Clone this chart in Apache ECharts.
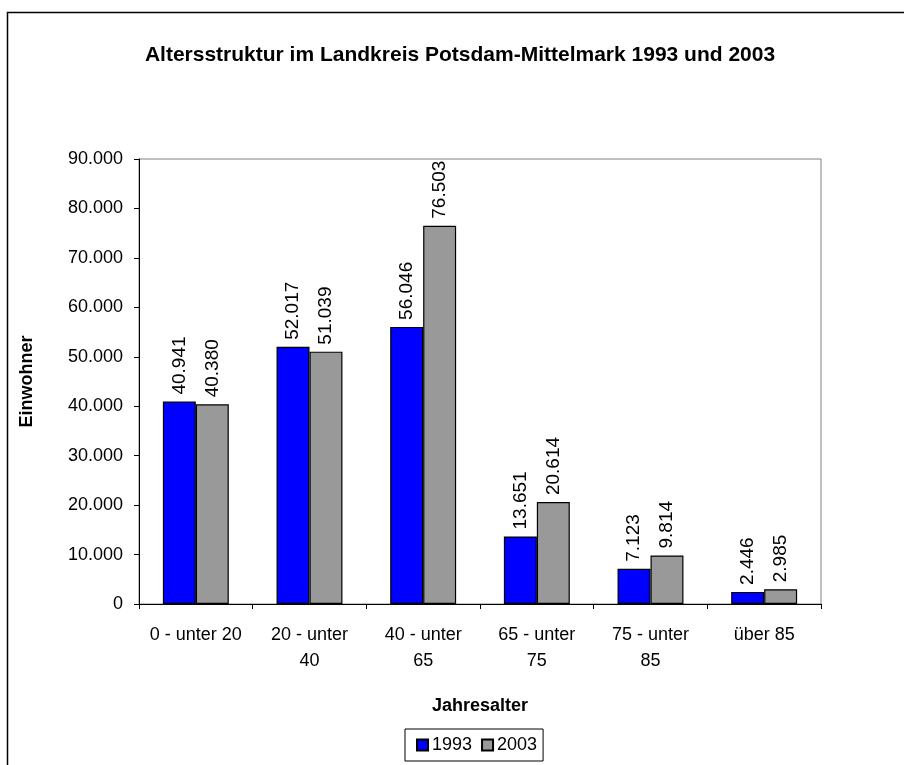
<!DOCTYPE html>
<html>
<head>
<meta charset="utf-8">
<script src="https://cdn.jsdelivr.net/npm/echarts@6/dist/echarts.min.js"></script>
<style>html,body{margin:0;padding:0;background:#fff}#c{width:904px;height:765px}</style>
</head>
<body>
<div id="c"></div>
<script>
const categories = ['0 - unter 20', '20 - unter\n40', '40 - unter\n65', '65 - unter\n75', '75 - unter\n85', 'über 85'];
const seriesNames = ['1993', '2003'];
const values1993 = [40941, 52017, 56046, 13651, 7123, 2446];
const values2003 = [40380, 51039, 76503, 20614, 9814, 2985];
const yTicks = { min: 0, max: 90000, interval: 10000 };

const fmt = v => String(v).replace(/\B(?=(\d{3})+(?!\d))/g, '.');
const FONT = '"Liberation Sans", Arial, sans-serif';

const chart = echarts.init(document.getElementById('c'), null, { renderer: 'canvas' });
const labelCfg = {
  show: true, position: 'top', rotate: 90, align: 'left', verticalAlign: 'middle',
  distance: 7, color: '#000', fontFamily: FONT, fontSize: 19,
  formatter: p => fmt(p.value)
};
chart.setOption({
  animation: false,
  backgroundColor: '#fff',
  graphic: [{
    type: 'rect', shape: { x: 7.5, y: 12.5, width: 1000, height: 1000 },
    style: { fill: 'none', stroke: '#000', lineWidth: 1.5 }, silent: true
  }],
  title: {
    text: 'Altersstruktur im Landkreis Potsdam-Mittelmark 1993 und 2003',
    left: 455, top: 40, textAlign: 'center',
    textStyle: { fontFamily: FONT, fontSize: 21, fontWeight: 'bold', color: '#000' }
  },
  legend: {
    data: seriesNames, left: 405, top: 729,
    itemWidth: 11, itemHeight: 11, itemGap: 9, icon: 'rect',
    borderColor: '#000', borderWidth: 1, padding: [7, 6, 7, 11],
    textStyle: { fontFamily: FONT, fontSize: 18, color: '#000', padding: [0, 0, 0, -1] }
  },
  grid: {
    left: 139, top: 159, right: 83, bottom: 161,
    show: true, borderColor: '#808080', borderWidth: 1, backgroundColor: 'transparent'
  },
  xAxis: {
    type: 'category', data: categories,
    name: 'Jahresalter', nameLocation: 'middle', nameGap: 93,
    nameTextStyle: { fontFamily: FONT, fontSize: 18, fontWeight: 'bold', color: '#000' },
    axisLine: { lineStyle: { color: '#000', width: 1 } },
    axisTick: { show: true, alignWithLabel: false, length: 5, lineStyle: { color: '#000' } },
    axisLabel: { fontFamily: FONT, fontSize: 18, color: '#000', margin: 18, lineHeight: 26, interval: 0 }
  },
  yAxis: {
    type: 'value', min: yTicks.min, max: yTicks.max, interval: yTicks.interval,
    name: 'Einwohner', nameLocation: 'middle', nameGap: 103,
    nameTextStyle: { fontFamily: FONT, fontSize: 18, fontWeight: 'bold', color: '#000' },
    axisLine: { show: true, lineStyle: { color: '#000', width: 1 } },
    axisTick: { show: true, length: 5, lineStyle: { color: '#000' } },
    splitLine: { show: false },
    axisLabel: { fontFamily: FONT, fontSize: 18, color: '#000', margin: 16, formatter: v => fmt(v) }
  },
  series: [
    { name: seriesNames[0], type: 'bar', data: values1993, barGap: '0%', barCategoryGap: '42%',
      itemStyle: { color: '#0000FF', borderColor: '#000', borderWidth: 1.2 }, label: labelCfg },
    { name: seriesNames[1], type: 'bar', data: values2003, barGap: '0%', barCategoryGap: '42%',
      itemStyle: { color: '#999999', borderColor: '#000', borderWidth: 1.2 }, label: labelCfg }
  ]
});
</script>
</body>
</html>
